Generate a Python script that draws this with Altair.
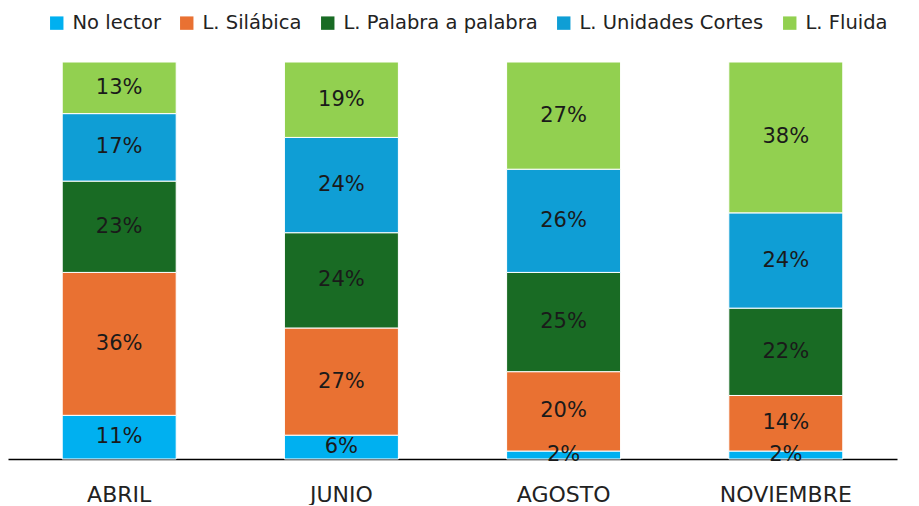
import altair as alt
import pandas as pd

months = ["ABRIL", "JUNIO", "AGOSTO", "NOVIEMBRE"]
series = ["No lector", "L. Silábica", "L. Palabra a palabra", "L. Unidades Cortes", "L. Fluida"]
colors = ["#00B0F0", "#E97132", "#196B24", "#0F9ED5", "#92D050"]

no_lector = [11, 6, 2, 2]
silabica = [36, 27, 20, 14]
palabra = [23, 24, 25, 22]
unidades = [17, 24, 26, 24]
fluida = [13, 19, 27, 38]

values = [no_lector, silabica, palabra, unidades, fluida]
rows = []
for si, s in enumerate(series):
    for mi, m in enumerate(months):
        v = values[si][mi]
        rows.append({"month": m, "series": s, "order": si, "value": v, "label": f"{v}%"})
df = pd.DataFrame(rows)

FONT = "DejaVu Sans"

base = alt.Chart(df).transform_stack(
    stack="value", groupby=["month"], as_=["y0", "y1"],
    sort=[alt.SortField("order", order="ascending")]
).transform_calculate(mid="(datum.y0 + datum.y1) / 2")

xenc = alt.X("month:N", sort=months,
             scale=alt.Scale(paddingInner=0.487, paddingOuter=0.244),
             axis=alt.Axis(title=None, labelAngle=0, ticks=False))

bars = base.mark_bar(stroke="white", strokeWidth=1).encode(
    x=xenc,
    y=alt.Y("y0:Q", scale=alt.Scale(domain=[0, 100]), axis=None),
    y2="y1:Q",
    color=alt.Color("series:N", scale=alt.Scale(domain=series, range=colors),
                    legend=alt.Legend(title=None, orient="none", direction="horizontal",
                                      legendX=39, legendY=-49, columns=5,
                                      symbolType="square", symbolSize=180,
                                      symbolStrokeWidth=0, labelFont=FONT,
                                      labelFontSize=19.5, labelColor="#222222",
                                      labelOffset=6, columnPadding=16, labelLimit=0)),
)

text = base.mark_text(fontSize=21, font=FONT, color="#1a1a1a").encode(
    x=alt.X("month:N", sort=months),
    y=alt.Y("mid:Q"),
    text="label:N",
)

chart = (bars + text).properties(
    width=889, height=397,
    autosize=alt.AutoSizeParams(type="none"),
    padding={"left": 0, "top": 54, "right": 13, "bottom": 46},
).configure_view(stroke=None).configure_axis(grid=False).configure_axisX(
    domainColor="#000000", domainWidth=1.5, labelFontSize=22, labelFont=FONT,
    labelColor="#222222", labelPadding=25, ticks=False, labelAngle=0
)

chart.save("out.html", embed_options={"renderer": "svg", "actions": False})
